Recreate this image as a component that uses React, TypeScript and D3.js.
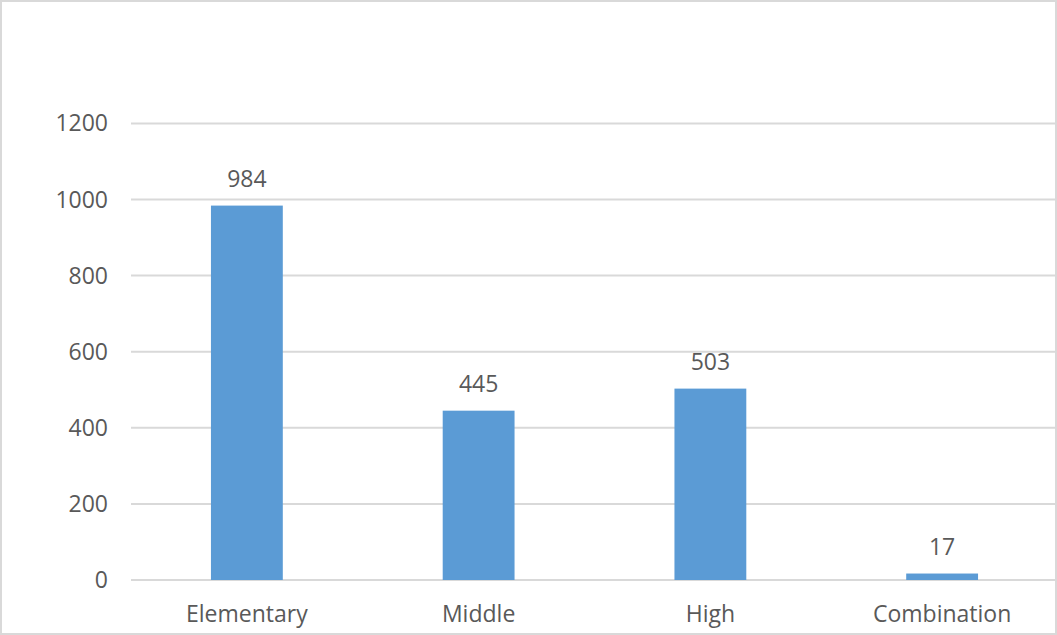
import React from "react";
import * as d3 from "d3";

const categories = ["Elementary", "Middle", "High", "Combination"];
const values = [984, 445, 503, 17];
const yTicks = [0, 200, 400, 600, 800, 1000, 1200];

export default function App() {
  const W = 1057, H = 635;
  const left = 131, right = 1058, top = 123.4, bottom = 580;
  const x = d3.scaleBand<string>().domain(categories).range([left, right]).paddingInner(0.69).paddingOuter(0.345);
  const y = d3.scaleLinear().domain([0, 1200]).range([bottom, top]);
  const font = "'Open Sans', 'Liberation Sans', sans-serif";
  const txt = "#595959";
  return (
    <svg width={W} height={H} style={{ position: "absolute", left: 0, top: 0 }} fontFamily={font}>
      <rect x={0} y={0} width={W} height={H} fill="#fff" />
      <defs>
        <clipPath id="c"><rect x={2} y={2} width={W - 4} height={H - 4} /></clipPath>
      </defs>
      <g clipPath="url(#c)">
        {yTicks.map((t) => (
          <line key={t} x1={left} x2={right} y1={y(t)} y2={y(t)} stroke="#d9d9d9" strokeWidth={2} />
        ))}
        {categories.map((c, i) => (
          <rect key={c} x={x(c)} y={y(values[i])} width={x.bandwidth()} height={bottom - y(values[i])} fill="#5b9bd5" />
        ))}
      </g>
      {yTicks.map((t) => (
        <text key={t} x={108} y={y(t)} dy="0.35em" textAnchor="end" fontSize={23} fill={txt}>{t}</text>
      ))}
      {categories.map((c, i) => (
        <text key={"v" + c} x={(x(c) as number) + x.bandwidth() / 2} y={y(values[i]) - 27} dy="0.35em" textAnchor="middle" fontSize={23} fill={txt}>{values[i]}</text>
      ))}
      {categories.map((c) => (
        <text key={"c" + c} x={(x(c) as number) + x.bandwidth() / 2} y={614} dy="0.35em" textAnchor="middle" fontSize={23} fill={txt}>{c}</text>
      ))}
      <rect x={1} y={1} width={W - 2} height={H - 2} fill="none" stroke="#d9d9d9" strokeWidth={2} />
    </svg>
  );
}
